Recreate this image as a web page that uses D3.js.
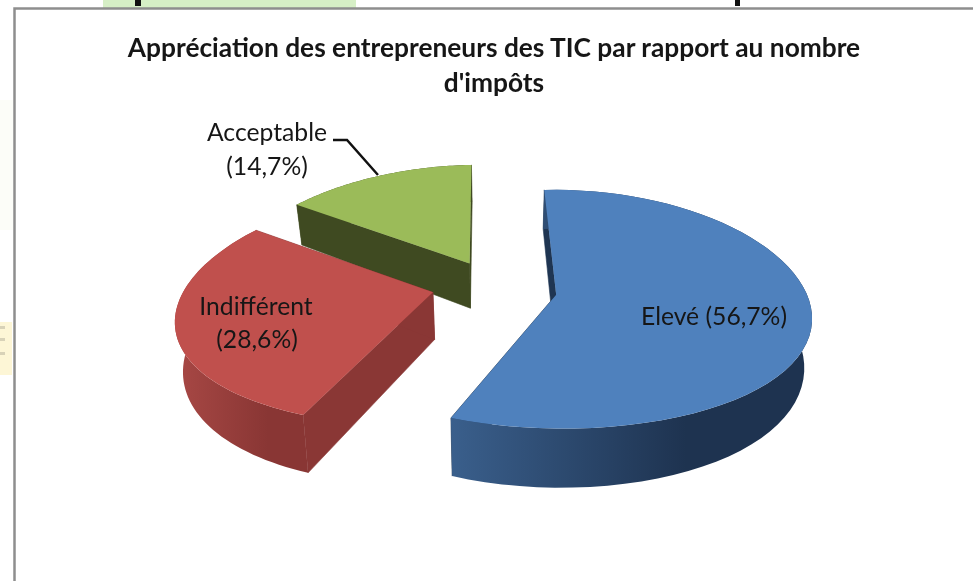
<!DOCTYPE html>
<html>
<head>
<meta charset="utf-8">
<script src="https://cdn.jsdelivr.net/npm/d3@7"></script>
<style>
  html, body { margin: 0; padding: 0; background: #fff; }
  svg { display: block; filter: blur(0.5px); }
  text { font-family: Lato, "Open Sans", sans-serif; fill: #161616; }
</style>
</head>
<body>
<svg width="973" height="581"></svg>
<script>
// Values
var categories = ['Elevé', 'Indifférent', 'Acceptable'];
var shares = [56.7, 28.6, 14.7];
var shareLabels = ['56,7%', '28,6%', '14,7%'];
var titleLines = ['Appréciation des entrepreneurs des TIC par rapport au nombre', "d'impôts"];

// Slice colours: top face, then wall gradient left / right, then cut wall
var topColors = ['#4f81bd', '#c0504d', '#9bbb59'];
var wallLeft = ['#3a5f8c', '#a84845', '#3f4a21'];
var wallRight = ['#1e3350', '#893634', '#3f4a21'];
var cutColors = ['#1f3552', '#8a3735', '#3f4a21'];

var svg = d3.select('svg');

// Page behind the chart frame
svg.append('rect').attr('x', 103).attr('y', 0).attr('width', 253).attr('height', 8).attr('fill', '#d6efc6');
svg.append('rect').attr('x', 135).attr('y', 0).attr('width', 6).attr('height', 6).attr('fill', '#111');
svg.append('rect').attr('x', 735).attr('y', 0).attr('width', 5).attr('height', 6).attr('fill', '#111');
svg.append('rect').attr('x', 0).attr('y', 100).attr('width', 13).attr('height', 130).attr('fill', '#fcfdf8');
svg.append('rect').attr('x', 0).attr('y', 322).attr('width', 12).attr('height', 53).attr('fill', '#fdf6d6');
[327, 339, 353].forEach(function(y) {
    svg.append('rect').attr('x', 0).attr('y', y - 1).attr('width', 5).attr('height', 3).attr('fill', '#d8d2b8');
});

// Chart frame
svg.append('path')
    .attr('d', 'M14.5,581V8.5H973')
    .attr('fill', 'none')
    .attr('stroke', '#8e8e8e')
    .attr('stroke-width', 2.5);

// Projection of the tilted disc on screen
var cx = 500, cy = 290;
var kx = 249, ky = 116.5;
var perspX = 0.18, perspY = 0.121, shear = 6;
var depth = 47, converge = 0.975;
// how far each slice is pulled out, in disc radii
var offsetU = [0.225, -0.268, -0.133];
var offsetV = [0.04, 0.02, -0.235];

function scaleAt(v, p) { return 1 / (1 - p * v); }
function project(u, v) {
    return [cx + u * kx * scaleAt(v, perspX) - shear * v, cy + v * ky * scaleAt(v, perspY)];
}
function projectLow(u, v) {
    var p = project(u, v);
    return [cx + (p[0] - cx) * converge, p[1] + depth * Math.pow(scaleAt(v, perspY), 1.7)];
}

var rad = Math.PI / 180;
var pie = d3.pie().sort(null).startAngle(-2.5 * rad).endAngle(357.5 * rad);
var arcs = pie(shares);
var line = d3.line();

var defs = svg.append('defs');
arcs.forEach(function(d, i) {
    var grad = defs.append('linearGradient').attr('id', 'wall' + i);
    grad.append('stop').attr('offset', '0%').attr('stop-color', wallLeft[i]);
    grad.append('stop').attr('offset', i == 0 ? '65%' : '70%').attr('stop-color', wallRight[i]);
});

var pieG = svg.append('g');

// Back slice first so the nearer ones paint over it
d3.range(arcs.length).reverse().forEach(function(i) {
    var d = arcs[i];
    var ou = offsetU[i], ov = offsetV[i];

    var steps = d3.range(0, 61).map(function(k) {
        var a = d.startAngle + (d.endAngle - d.startAngle) * k / 60;
        return [ou + Math.sin(a), ov - Math.cos(a)];
    });
    var topArc = steps.map(function(q) { return project(q[0], q[1]); });
    var lowArc = steps.map(function(q) { return projectLow(q[0], q[1]); });
    var apex = project(ou, ov);
    var apexLow = projectLow(ou, ov);
    var g = pieG.append('g').attr('class', 'slice');

    // cut walls
    [0, topArc.length - 1].forEach(function(k) {
        g.append('path')
            .attr('d', line([apex, topArc[k], lowArc[k], apexLow]) + 'Z')
            .attr('fill', cutColors[i])
            .attr('stroke', cutColors[i])
            .attr('stroke-width', 0.6);
    });
    // outer wall
    g.append('path')
        .attr('d', line(topArc.concat(lowArc.slice().reverse())) + 'Z')
        .attr('fill', 'url(#wall' + i + ')');
    // top face
    g.append('path')
        .attr('d', line([apex].concat(topArc)) + 'Z')
        .attr('fill', topColors[i]);
});

// Title
svg.selectAll('.title').data(titleLines).enter().append('text')
    .attr('class', 'title')
    .attr('x', 494)
    .attr('y', function(d, i) { return 57 + i * 35; })
    .attr('text-anchor', 'middle')
    .attr('font-weight', 700)
    .attr('font-size', 26.3)
    .text(function(d) { return d; });

// Labels
function label(x, y, txt) {
    svg.append('text').attr('x', x).attr('y', y)
        .attr('text-anchor', 'middle')
        .attr('font-size', 24.7)
        .text(txt);
}
label(714, 325, categories[0] + ' (' + shareLabels[0] + ')');
label(256, 315, categories[1]);
label(257, 348, '(' + shareLabels[1] + ')');
label(267, 141, categories[2]);
label(267, 175, '(' + shareLabels[2] + ')');

// Leader line for the green slice
svg.append('path')
    .attr('d', line([[333, 140], [347, 140], [378, 175]]))
    .attr('fill', 'none')
    .attr('stroke', '#111')
    .attr('stroke-width', 2.5);
</script>
</body>
</html>
